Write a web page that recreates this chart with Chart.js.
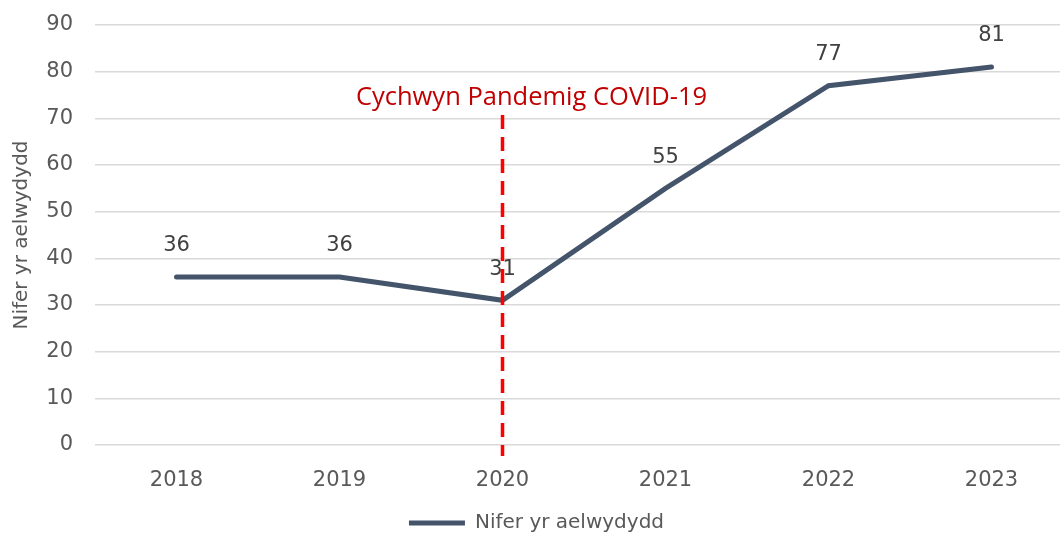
<!DOCTYPE html>
<html>
<head>
<meta charset="utf-8">
<script src="https://cdn.jsdelivr.net/npm/chart.js@4/dist/chart.umd.min.js"></script>
<style>
  html, body { margin: 0; padding: 0; background: #fff; overflow: hidden; }
  #wrap { position: relative; width: 1074px; height: 536px; }
</style>
</head>
<body>
<div id="wrap"><canvas id="c"></canvas></div>
<script>
// Households per year
const years = ['2018', '2019', '2020', '2021', '2022', '2023'];
const households = [36, 36, 31, 55, 77, 81];
const seriesName = 'Nifer yr aelwydydd';
const axisTitle = 'Nifer yr aelwydydd';
const yTicks = [0, 10, 20, 30, 40, 50, 60, 70, 80, 90];
// Pandemic marker
const markerIndex = 2;
const markerText = 'Cychwyn Pandemig COVID-19';

const FONT = "'DejaVu Sans', sans-serif";

// Value labels above each point
const valueLabels = {
  id: 'valueLabels',
  afterDatasetsDraw(chart) {
    const ctx = chart.ctx;
    const meta = chart.getDatasetMeta(0);
    ctx.save();
    ctx.font = '21px ' + FONT;
    ctx.fillStyle = '#404040';
    ctx.textAlign = 'center';
    ctx.textBaseline = 'middle';
    meta.data.forEach((pt, i) => {
      ctx.fillText(String(households[i]), pt.x, pt.y - 31);
    });
    ctx.restore();
  }
};

// Dashed vertical marker with caption
const pandemicMarker = {
  id: 'pandemicMarker',
  afterDraw(chart) {
    const ctx = chart.ctx;
    const x = chart.scales.x.getPixelForValue(markerIndex);
    const bottom = chart.chartArea.bottom + 11;
    ctx.save();
    ctx.strokeStyle = '#FF0000';
    ctx.lineWidth = 3.5;
    ctx.setLineDash([14, 8]);
    ctx.beginPath();
    ctx.moveTo(x, 115);
    ctx.lineTo(x, bottom);
    ctx.stroke();
    ctx.setLineDash([]);
    ctx.font = "25.5px 'Open Sans', 'Liberation Sans', sans-serif";
    ctx.fillStyle = '#C00000';
    ctx.textAlign = 'center';
    ctx.textBaseline = 'alphabetic';
    ctx.fillText(markerText, x + 29, 105);
    ctx.restore();
  }
};

new Chart(document.getElementById('c'), {
  type: 'line',
  data: {
    labels: years,
    datasets: [{
      label: seriesName,
      data: households,
      borderColor: '#44546A',
      backgroundColor: '#44546A',
      borderWidth: 5,
      borderCapStyle: 'round',
      pointRadius: 0,
      tension: 0
    }]
  },
  options: {
    responsive: true,
    maintainAspectRatio: false,
    animation: false,
    layout: { padding: { top: 25, left: 0, right: 1, bottom: -7 } },
    plugins: {
      tooltip: { enabled: false },
      legend: {
        position: 'bottom',
        align: 'center',
        labels: {
          font: { family: FONT, size: 20 },
          color: '#595959',
          boxWidth: 56,
          boxHeight: 5,
          padding: 4,
          generateLabels(chart) {
            return [{
              text: seriesName,
              fillStyle: '#44546A',
              strokeStyle: '#44546A',
              fontColor: '#595959',
              lineWidth: 0,
              datasetIndex: 0
            }];
          }
        }
      }
    },
    scales: {
      x: {
        offset: true,
        grid: { display: false },
        border: { display: false },
        ticks: {
          font: { family: FONT, size: 21 },
          color: '#595959',
          padding: 15,
          maxRotation: 0
        },
        afterFit(scale) { scale.height = 64; }
      },
      y: {
        min: 0,
        max: 90,
        afterBuildTicks(scale) { scale.ticks = yTicks.map(v => ({ value: v })); },
        grid: { color: '#D9D9D9', lineWidth: 1.5, drawTicks: false },
        border: { display: false },
        ticks: {
          font: { family: FONT, size: 21 },
          color: '#595959',
          padding: 22
        },
        title: {
          display: true,
          text: axisTitle,
          font: { family: FONT, size: 20 },
          color: '#595959',
          padding: { top: 10, bottom: 6 }
        },
        afterFit(scale) {
          scale.width = 95;
          scale.paddingTop = 0;
          scale.paddingBottom = 0;
        }
      }
    }
  },
  plugins: [valueLabels, pandemicMarker]
});
</script>
</body>
</html>
